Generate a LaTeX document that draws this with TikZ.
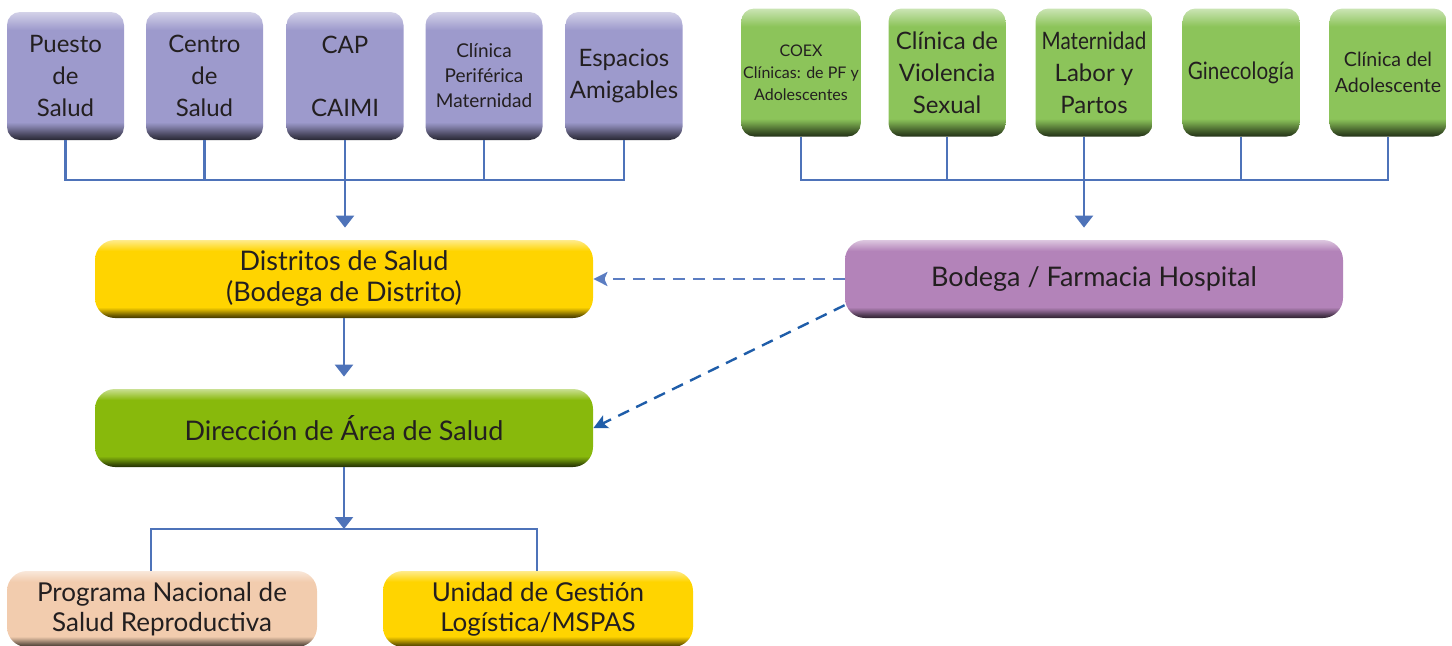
\documentclass[tikz,border=0pt]{standalone}
\usepackage{fontspec}
\setmainfont{Lato}
\newfontfamily\estrecha[FakeStretch=0.86]{Lato}
\usetikzlibrary{arrows.meta,positioning,shapes}

\definecolor{lavanda}{HTML}{9D9ACC}
\definecolor{verdeclaro}{HTML}{8CC45A}
\definecolor{amarillo}{HTML}{FFD400}
\definecolor{lila}{HTML}{B383B9}
\definecolor{verde}{HTML}{88B90C}
\definecolor{durazno}{HTML}{F2CCAE}
\definecolor{linea}{HTML}{4E73B9}
\definecolor{lineaclara}{HTML}{5B7DC2}
\definecolor{lineaosc}{HTML}{1F5DA9}
\definecolor{texto}{HTML}{231F20}

% bevel look of the boxes, one shading per colour
\newcommand\bisel[1]{\pgfdeclareverticalshading{bisel#1}{100bp}{color(0bp)=(#1!25!black); color(25bp)=(#1!25!black); color(27bp)=(#1!45!black); color(30.5bp)=(#1!85!black); color(32bp)=(#1); color(68bp)=(#1); color(75bp)=(#1!45!white); color(100bp)=(#1!45!white)}}
\bisel{lavanda}\bisel{verdeclaro}\bisel{amarillo}\bisel{lila}\bisel{verde}\bisel{durazno}

\begin{document}
\begin{tikzpicture}[x=0.5pt, y=-0.5pt,
  caja/.style={shading=bisel#1, text=texto, align=center, inner sep=1pt},
  alta/.style={minimum width=58.5pt, minimum height=64pt, rounded corners=6.5pt, font=\fontsize{12}{16}\selectfont},
  ancha/.style={minimum width=249pt, minimum height=39pt, rounded corners=10pt, font=\fontsize{13.5}{15.5}\selectfont},
  baja/.style={minimum width=155pt, minimum height=38pt, rounded corners=10pt, font=\fontsize{13}{15}\selectfont},
  enlace/.style={draw=linea, line width=1.2pt},
  flecha/.style={-{Triangle[width=9pt, length=6pt]}},
  punteado/.style={line width=1.2pt, dash pattern=on 6pt off 4pt, -{Stealth[length=7pt, width=7pt, inset=1.5pt]}}]
\useasboundingbox (0,0) rectangle (1452,645);
% Puestos y centros (purple)
\node[caja=lavanda, alta] (p1) at (65.5,76) {Puesto\\de\\Salud};
\node[caja=lavanda, alta] (p2) at (204.5,76) {Centro\\de\\Salud};
\node[caja=lavanda, alta] (p3) at (345,76) {CAP\\[15.5pt]CAIMI};
\node[caja=lavanda, alta, font=\fontsize{9.5}{12.5}\selectfont] (p4) at (484,76) {Clínica\\Periférica\\Maternidad};
\node[caja=lavanda, alta] (p5) at (624,76) {Espacios\\Amigables};
% Hospital services (green)
\node[caja=verdeclaro, alta, font=\fontsize{8}{11}\selectfont] (g1) at (801,72.5) {COEX\\Clínicas: de PF y\\Adolescentes};
\node[caja=verdeclaro, alta] (g2) at (947,72.5) {Clínica de\\Violencia\\Sexual};
\node[caja=verdeclaro, alta] (g3) at (1094,72.5) {{\estrecha Maternidad}\\Labor y\\Partos};
\node[caja=verdeclaro, alta] (g4) at (1241,72.5) {\estrecha Ginecología};
\node[caja=verdeclaro, alta, font=\fontsize{9.8}{13}\selectfont] (g5) at (1388,72.5) {Clínica del\\Adolescente};
% Middle level
\node[caja=amarillo, ancha] (distritos) at (344,279) {Distritos de Salud\\(Bodega de Distrito)};
\node[caja=lila, ancha] (bodega) at (1094,279) {Bodega / Farmacia Hospital};
\node[caja=verde, ancha] (direccion) at (344,428) {Dirección de Área de Salud};
% Bottom level
\node[caja=durazno, baja] (programa) at (162,609) {Programa Nacional de\\Salud Reproductiva};
\node[caja=amarillo, baja] (unidad) at (538,609) {Unidad de Gestión\\Logística/MSPAS};
% Left tree
\coordinate (barp) at (345,180);
\draw[enlace] (p1.south) |- (barp) -| (p5.south);
\foreach \n in {p2,p4} \draw[enlace] (\n.south) -- (\n.south |- barp);
\draw[enlace, flecha, shorten >=6pt] (p3.south) -- (p3.south |- distritos.north);
% Right tree
\coordinate (barg) at (1084,180);
\draw[enlace] (g1.south) |- (barg) -| (g5.south);
\foreach \n in {g2,g4} \draw[enlace] (\n.south) -- (\n.south |- barg);
\draw[enlace, flecha, shorten >=6pt] (g3.south -| barg) -- (bodega.north -| barg);
% Hospital -> district, area
\draw[punteado, lineaclara] (bodega.west) -- (distritos.east);
\draw[punteado, lineaosc] (bodega.186) -- (direccion.east);
% Down the chain
\draw[enlace, flecha, shorten >=6pt] (distritos) -- (direccion);
\coordinate (split) at (344,529);
\coordinate (izq) at (151,529);
\coordinate (der) at (537,529);
\draw[enlace, flecha] (direccion.south) -- (split);
\draw[enlace] (programa.north -| izq) |- (der) -- (unidad.north -| der);
\end{tikzpicture}
\end{document}
